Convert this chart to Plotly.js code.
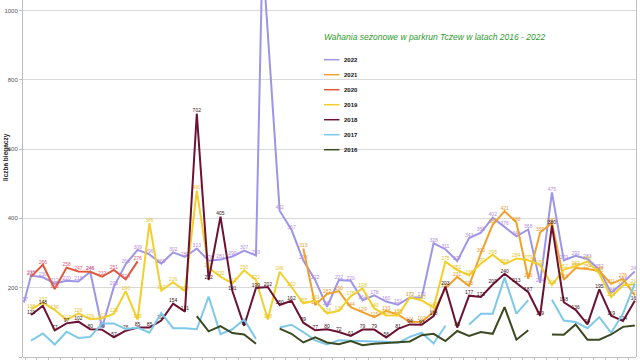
<!DOCTYPE html>
<html><head><meta charset="utf-8">
<script src="https://cdn.plot.ly/plotly-3.0.1.min.js"></script>
<style>html,body{margin:0;padding:0;background:#fff}#chart{width:640px;height:360px}</style>
</head><body><div id="chart"></div>
<script>
const years = ['2022','2021','2020','2019','2018','2017','2016'];
const lineColors = ['#9d95e6','#f0a22e','#e0583a','#f2cf2a','#6d1232','#7ec8ea','#3b4a20'];
const labelColors = ['#b58ae0','#e89a30','#d8607a','#e6c628','#3a1418',null,null];

const weeks = [0,1,2,3,4,5,6,7,8,9,10,11,12,13,14,15,16,17,18,19,20,21,22,23,24,25,26,27,28,29,30,31,32,33,34,35,36,37,38,39,40,41,42,43,44,45,46,47,48,49,50,51];
const weeks2022 = [-0.6,0,1,2,3,4,5,6,7,8,9,10,11,12,13,14,15,16,17,18,19,19.55,21,22,23,24,25,26,27,28,29,30,31,32,33,34,35,36,37,38,39,40,41,42,43,44,45,46,47,48,49,50,51];

const runners2022 = [157,235,230,212,220,218,246,85,203,268,309,296,269,302,289,313,278,281,290,307,293,1164,422,367,278,222,145,222,220,164,178,160,151,172,172,328,311,277,343,359,402,376,348,368,214,475,279,292,283,252,185,215,247];
const runners2021 = [null,null,null,null,null,null,null,null,null,null,null,null,null,null,null,null,null,null,null,null,null,null,null,313,150,182,190,144,129,115,133,122,101,102,130,198,231,205,300,382,421,388,226,359,387,223,257,254,248,211,226,178];
const runners2020 = [232,266,196,258,247,246,232,251,224,276,null,null,null,null,null,null,null,null,null,null,null,null,null,null,null,null,null,null,null,null,null,null,null,null,null,null,null,null,null,null,null,null,null,null,null,null,null,null,null,null,null,null];
const runners2019 = [138,157,136,107,126,109,112,125,190,108,386,192,216,190,480,257,232,212,250,222,108,246,202,155,163,126,133,175,198,140,120,120,172,163,143,275,251,236,270,295,268,284,279,265,208,252,262,276,241,173,207,210];
const runners2018 = [121,148,77,97,102,80,79,57,76,85,85,105,154,131,702,222,405,191,90,199,202,150,162,99,77,80,72,61,79,79,56,81,94,93,118,203,85,177,173,209,240,213,187,119,380,158,136,94,195,119,104,162];
const runners2017 = [47,68,36,73,55,58,97,97,80,85,70,127,83,83,80,174,66,80,108,52,null,85,93,72,48,36,48,47,45,45,44,41,58,70,39,90,null,94,125,125,229,125,164,null,165,105,101,83,115,70,125,212];
const runners2016 = [null,null,null,null,null,null,null,null,null,null,null,null,null,null,118,74,89,69,65,38,null,82,67,42,57,42,37,46,34,38,40,44,45,63,67,46,75,61,72,67,144,50,77,null,65,64,94,50,50,65,87,91];

const seriesX = [weeks2022, weeks, weeks, weeks, weeks, weeks, weeks];
const seriesY = [runners2022, runners2021, runners2020, runners2019, runners2018, runners2017, runners2016];

const FONT = 'Liberation Sans, Arial, sans-serif';

const traces = years.map((yr, k) => {
  const t = {
    type: 'scatter',
    name: yr,
    x: seriesX[k],
    y: seriesY[k],
    mode: labelColors[k] ? 'lines+text' : 'lines',
    line: {color: lineColors[k], width: 2},
    connectgaps: false,
    showlegend: false,
    hoverinfo: 'skip'
  };
  if (labelColors[k]) {
    t.text = seriesY[k].map(v => (v == null || v > 1030) ? '' : String(v));
    t.textposition = 'top center';
    t.textfont = {family: FONT, size: 5, color: labelColors[k]};
  }
  return t;
});

// plot area in pixels: x 23..636, y 0..357
const L = 23, R = 636, T = 0, B = 357;
const px = X => (X - L) / (R - L);
const py = Y => (B - Y) / (B - T);

const annotations = [
  {text: '<i>Wahania sezonowe w parkrun Tczew w latach 2016 - 2022</i>', xref: 'paper', yref: 'paper',
   x: px(322), y: py(37), xanchor: 'left', yanchor: 'middle', showarrow: false,
   font: {family: FONT, size: 8.5, color: '#2e9a2e'}},
  {text: '<b>liczba biegaczy</b>', xref: 'paper', yref: 'paper', x: px(6), y: py(157),
   xanchor: 'center', yanchor: 'middle', textangle: -90, showarrow: false,
   font: {family: FONT, size: 6.5, color: '#222'}}
];
const shapes = [];
years.forEach((yr, k) => {
  const Y = 59.7 + 15 * k;
  annotations.push({text: '<b>' + yr + '</b>', xref: 'paper', yref: 'paper', x: px(341.5), y: py(Y),
    xanchor: 'left', yanchor: 'middle', showarrow: false, font: {family: FONT, size: 6, color: '#111'}});
  shapes.push({type: 'line', xref: 'paper', yref: 'paper', x0: px(324), x1: px(339.5), y0: py(Y), y1: py(Y),
    line: {color: lineColors[k], width: 1.5}});
});

const layout = {
  width: 640, height: 360,
  margin: {l: L, r: 640 - R, t: T, b: 360 - B},
  paper_bgcolor: '#ffffff', plot_bgcolor: '#ffffff',
  showlegend: false,
  xaxis: {range: [-0.68, 51.1], showgrid: false, zeroline: false, showline: false,
          tickmode: 'linear', tick0: -0.5, dtick: 1, ticks: 'outside', ticklen: 3, tickcolor: '#bfbfbf',
          showticklabels: false},
  yaxis: {range: [0, 1030], tickmode: 'linear', tick0: 0, dtick: 200, gridcolor: '#d9d9d9', gridwidth: 1,
          zeroline: true, zerolinecolor: '#bfbfbf', showline: true, linecolor: '#bfbfbf', mirror: true,
          ticks: 'outside', ticklen: 3, tickcolor: '#bfbfbf',
          tickfont: {family: FONT, size: 6, color: '#555'}},
  annotations: annotations,
  shapes: shapes
};

Plotly.newPlot('chart', traces, layout, {staticPlot: true, displayModeBar: false});
</script>
</body></html>
